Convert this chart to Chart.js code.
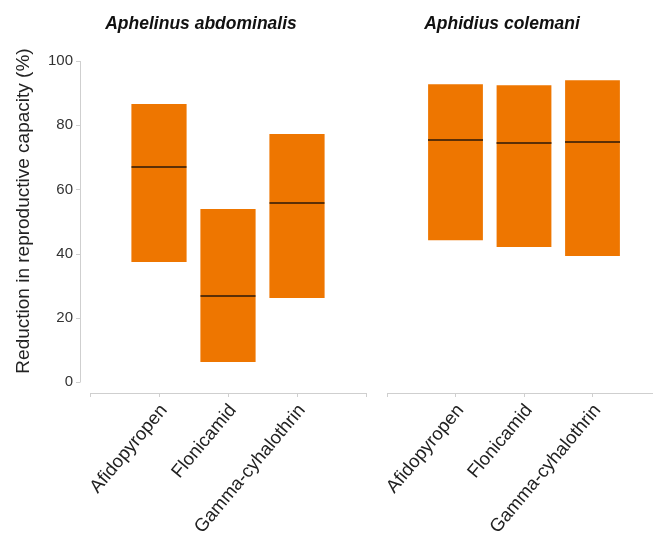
<!DOCTYPE html>
<html>
<head>
<meta charset="utf-8">
<script src="https://cdn.jsdelivr.net/npm/chart.js@4.4.1/dist/chart.umd.min.js"></script>
<style>
html, body { margin: 0; padding: 0; width: 653px; height: 540px; overflow: hidden; background: #fff; }
#left { position: absolute; left: 0; top: 0; }
#right { position: absolute; left: 353px; top: 0; }
</style>
</head>
<body>
<canvas id="left" width="380" height="540"></canvas>
<canvas id="right" width="308" height="540"></canvas>
<script>
// DATA
const categories = ['Afidopyropen', 'Flonicamid', 'Gamma-cyhalothrin'];
const yTicks = [0, 20, 40, 60, 80, 100];
const yTitle = 'Reduction in reproductive capacity (%)';

// Aphelinus abdominalis
const abdTitle = 'Aphelinus abdominalis';
const abdLow = [37.4, 6.2, 26.2];
const abdHigh = [86.6, 53.9, 77.3];
const abdMedian = [67.0, 26.8, 55.8];

// Aphidius colemani
const colTitle = 'Aphidius colemani';
const colLow = [44.2, 42.1, 39.3];
const colHigh = [92.8, 92.5, 94.0];
const colMedian = [75.4, 74.5, 74.8];

Chart.defaults.font.family = '"Liberation Sans", Arial, sans-serif';
Chart.defaults.color = '#333';

const ORANGE = '#EE7600';
const AXIS = '#cfcfcf';

// empty slot at both ends of the axis, like the original
function pad(arr) { return [null, ...arr, null]; }
const labels = ['', ...categories, ''];

const panelTitle = {
    id: 'panelTitle',
    afterDraw(chart, args, o) {
        if (!o.text) return;
        const ctx = chart.ctx;
        ctx.save();
        ctx.font = 'italic bold 17.5px "Liberation Sans", Arial, sans-serif';
        ctx.fillStyle = '#111';
        ctx.textAlign = 'center';
        ctx.textBaseline = 'alphabetic';
        ctx.fillText(o.text, o.x, o.y);
        ctx.restore();
    }
};

// detached y axis line (drawn a bit left of the plot area)
const yAxisLine = {
    id: 'yAxisLine',
    afterDraw(chart, args, o) {
        if (!o.show) return;
        const y = chart.scales.y;
        const x = chart.chartArea.left - 10;
        const ctx = chart.ctx;
        ctx.save();
        ctx.strokeStyle = AXIS;
        ctx.lineWidth = 1;
        ctx.beginPath();
        ctx.moveTo(x + 0.5, y.getPixelForValue(yTicks[0]));
        ctx.lineTo(x + 0.5, y.getPixelForValue(yTicks[yTicks.length - 1]));
        yTicks.forEach(v => {
            const py = Math.round(y.getPixelForValue(v)) + 0.5;
            ctx.moveTo(x - 4, py);
            ctx.lineTo(x + 0.5, py);
        });
        ctx.stroke();
        ctx.restore();
    }
};

function makePanel(id, low, high, median, opt) {
    return new Chart(document.getElementById(id), {
        type: 'bar',
        data: {
            labels: labels,
            datasets: [
                {
                    type: 'line',
                    data: pad(median),
                    showLine: false,
                    pointStyle: 'line',
                    pointRadius: 27.5,
                    pointHoverRadius: 27.5,
                    pointBorderColor: '#2a1808',
                    pointBorderWidth: 1.5,
                    order: 0
                },
                {
                    type: 'bar',
                    data: pad(low.map((l, i) => [l, high[i]])),
                    backgroundColor: ORANGE,
                    barPercentage: 0.8,
                    categoryPercentage: 1,
                    grouped: false,
                    order: 1
                }
            ]
        },
        options: {
            responsive: false,
            animation: false,
            layout: { padding: opt.padding, autoPadding: false },
            plugins: {
                legend: { display: false },
                tooltip: { enabled: false },
                panelTitle: opt.title,
                yAxisLine: { show: opt.showY }
            },
            scales: {
                x: {
                    type: 'category',
                    offset: false,
                    afterFit: s => { s.height = 147; s.paddingLeft = 0; s.paddingRight = 0; },
                    grid: { offset: false, drawOnChartArea: false, tickLength: 4, color: AXIS },
                    border: { display: true, color: AXIS },
                    ticks: { autoSkip: false, minRotation: 50, maxRotation: 50, padding: 3, labelOffset: 5, color: '#222', font: { size: 18.5 } }
                },
                y: {
                    display: opt.showY,
                    min: -3.43,
                    max: 110,
                    afterBuildTicks: s => { s.ticks = yTicks.map(v => ({ value: v })); },
                    afterFit: s => { if (opt.showY) s.width = 90; },
                    grid: { display: false, drawTicks: false },
                    border: { display: false },
                    ticks: { padding: 17, color: '#333', font: { size: 15 } },
                    title: { display: true, text: yTitle, color: '#222', font: { size: 19 }, padding: { top: 12, bottom: 0 } }
                }
            }
        },
        plugins: [panelTitle, yAxisLine]
    });
}

makePanel('left', abdLow, abdHigh, abdMedian, {
    padding: { top: 29, right: 14, left: 0, bottom: 0 },
    title: { text: abdTitle, x: 201, y: 29 },
    showY: true
});

makePanel('right', colLow, colHigh, colMedian, {
    padding: { top: 29, right: 0, left: 34, bottom: 0 },
    title: { text: colTitle, x: 149, y: 29 },
    showY: false
});
</script>
</body>
</html>
